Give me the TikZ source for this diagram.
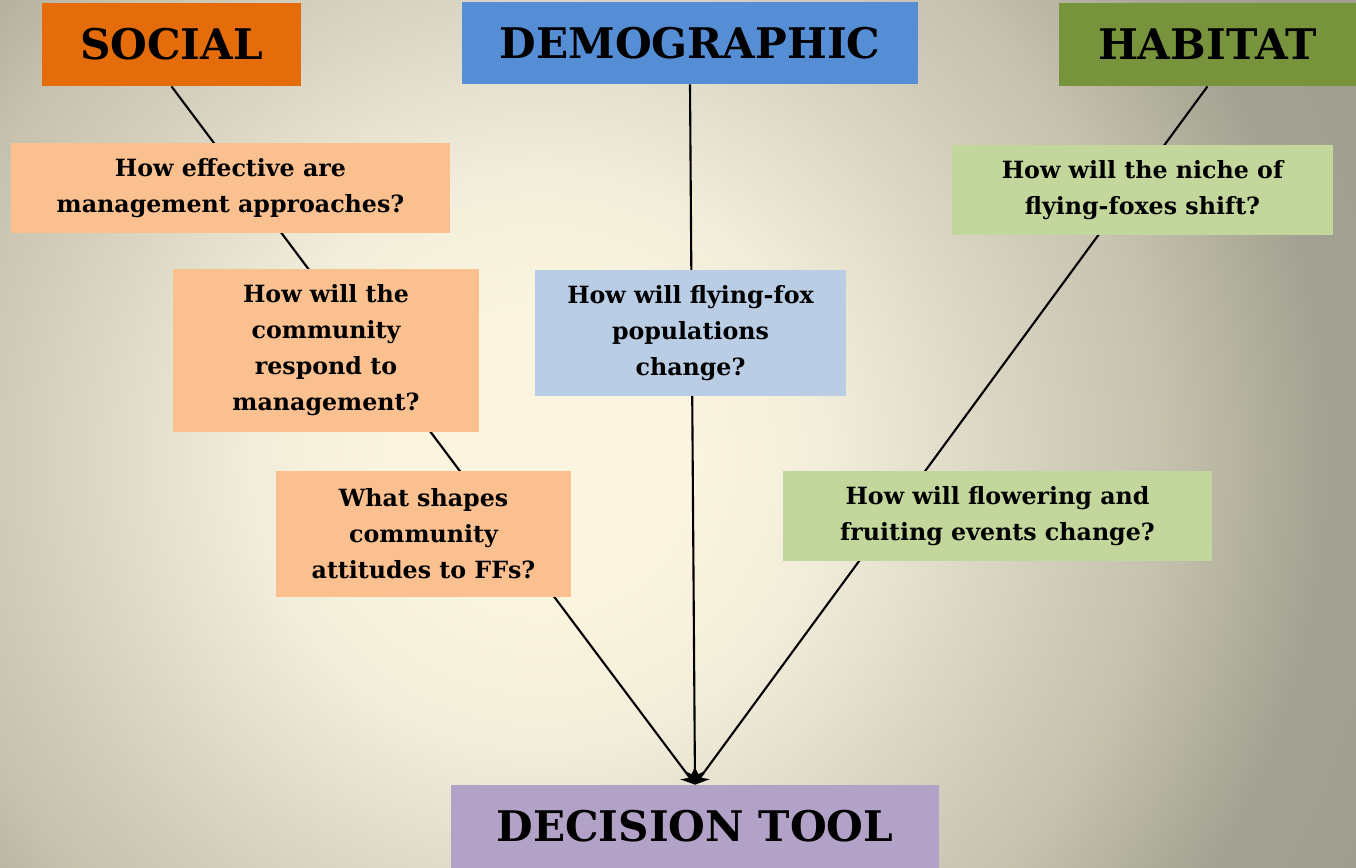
\documentclass[tikz,border=0pt]{standalone}
\usepackage{fontspec}
\setmainfont{DejaVu Serif}
\usetikzlibrary{arrows.meta}

\definecolor{socialhead}{HTML}{E46C0A}
\definecolor{demohead}{HTML}{558ED5}
\definecolor{habhead}{HTML}{77933C}
\definecolor{socialq}{HTML}{FAC090}
\definecolor{demoq}{HTML}{B9CDE5}
\definecolor{habq}{HTML}{C3D69B}
\definecolor{toolbox}{HTML}{B3A2C7}
\definecolor{glowa}{HTML}{FBF5DF}
\definecolor{glowb}{HTML}{F2EDDA}
\definecolor{glowc}{HTML}{D2CEBB}
\definecolor{glowd}{HTML}{C5C1AD}
\definecolor{glowe}{HTML}{A3A191}
\definecolor{glowf}{HTML}{9E9C8C}

\pgfdeclareradialshading{bgglow}{\pgfpoint{0bp}{0bp}}{color(0bp)=(glowa); color(3.75bp)=(glowa); color(7.25bp)=(glowb); color(12.9bp)=(glowc); color(15.6bp)=(glowd); color(19.75bp)=(glowe); color(25bp)=(glowf); color(50bp)=(glowf)}

\pgfdeclarelayer{bg}
\pgfdeclarelayer{links}
\pgfsetlayers{bg,links,main}

\tikzset{
  head/.style={rectangle, inner sep=0pt, font=\bfseries\fontsize{24}{28}\selectfont},
  question/.style={rectangle, inner sep=0pt, align=center, font=\bfseries\fontsize{13.5}{20.5}\selectfont},
  link/.style={line width=1.2pt, -{Stealth[length=2.6mm,width=3.4mm]}}
}

\begin{document}
\begin{tikzpicture}[x=0.02cm,y=-0.02cm]
  \useasboundingbox (0,0) rectangle (1356,868);

  % background glow
  \begin{pgfonlayer}{bg}
    \clip (0,0) rectangle (1356,868);
    \shade[shading=bgglow] (540,460) circle [radius=20cm];
  \end{pgfonlayer}

  % Headers
  \node[head, fill=socialhead, minimum width=5.18cm, minimum height=1.66cm] (social) at (171.5,44.5) {SOCIAL};
  \node[head, fill=demohead, minimum width=9.12cm, minimum height=1.64cm] (demog) at (690,43) {DEMOGRAPHIC};
  \node[head, fill=habhead, minimum width=5.94cm, minimum height=1.66cm] (habitat) at (1207.5,44.5) {HABITAT};

  % Questions
  \node[question, fill=socialq, minimum width=8.78cm, minimum height=1.8cm] (socialA) at (230.5,188) {How effective are\\management approaches?};
  \node[question, fill=socialq, minimum width=6.12cm, minimum height=3.26cm] (socialB) at (326,350.5) {How will the\\community\\respond to\\management?};
  \node[question, fill=socialq, minimum width=5.9cm, minimum height=2.52cm] (socialC) at (423.5,534) {What shapes\\community\\attitudes to FFs?};
  \node[question, fill=demoq, minimum width=6.22cm, minimum height=2.52cm] (demogA) at (690.5,333) {How will flying-fox\\populations\\change?};
  \node[question, fill=habq, minimum width=7.62cm, minimum height=1.8cm] (habitatA) at (1142.5,190) {How will the niche of\\flying-foxes shift?};
  \node[question, fill=habq, minimum width=8.58cm, minimum height=1.8cm] (habitatB) at (997.5,516) {How will flowering and\\fruiting events change?};

  % Decision tool
  \node[head, fill=toolbox, minimum width=9.76cm, minimum height=1.66cm] (tool) at (695,826.5) {DECISION TOOL};

  % Links behind the boxes
  \begin{pgfonlayer}{links}
    \draw[link] (social.south) -- (tool.north);
    \draw[link] (demog.south) -- (tool.north);
    \draw[link] (habitat.south) -- (tool.north);
  \end{pgfonlayer}

\end{tikzpicture}
\end{document}
